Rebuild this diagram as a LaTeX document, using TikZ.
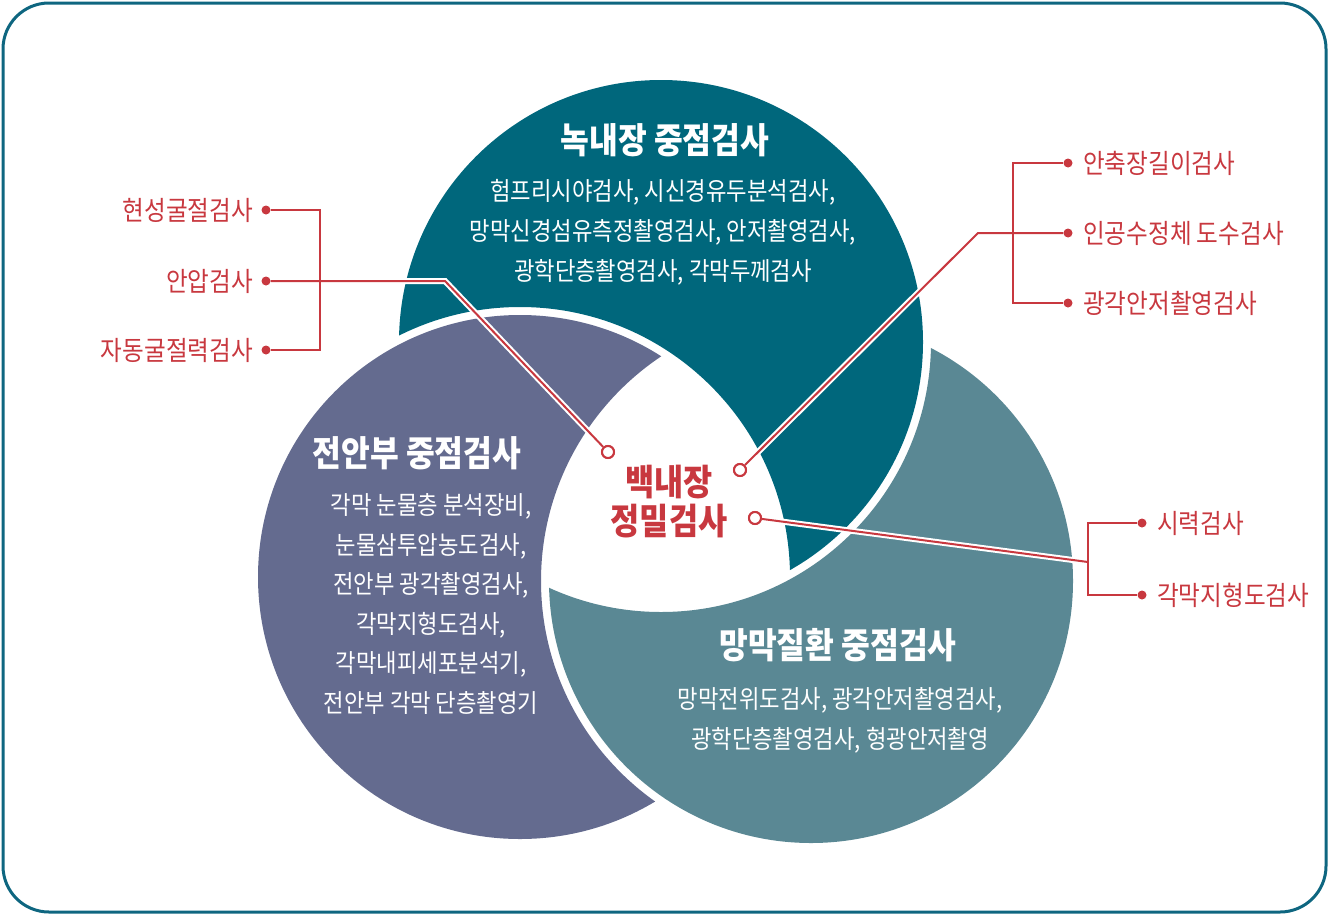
\documentclass[tikz,border=0pt]{standalone}
\usepackage{fontspec}
\setmainfont{Noto Sans CJK KR}[FakeStretch=0.88]
\definecolor{cTop}{RGB}{0,103,124}
\definecolor{cLeft}{RGB}{100,107,143}
\definecolor{cRight}{RGB}{90,136,148}
\definecolor{cRed}{RGB}{200,56,63}
\definecolor{cFrame}{RGB}{14,102,128}
\begin{document}
\begin{tikzpicture}[x=1pt,y=-1pt,
  ttl/.style={text=white, font=\fontsize{35.5}{40}\bfseries\selectfont, inner sep=0pt},
  body/.style={text=white, align=center, inner sep=0pt},
  ctr/.style={text=cRed, align=center, inner sep=0pt, font=\fontsize{36}{39}\bfseries\selectfont},
  lab/.style={text=cRed, inner sep=0pt, font=\fontsize{26.8}{30}\selectfont},
  dot/.style={circle, fill=cRed, inner sep=0pt, minimum size=9pt},
  ring/.style={circle, draw=cRed, line width=2pt, fill=white, inner sep=0pt, minimum size=12pt},
  wire/.style={draw=cRed, line width=2pt},
  cased/.style={preaction={draw=white, line width=6pt}}]
\useasboundingbox (0,0) rectangle (1330,916);
\draw[cFrame, line width=3pt, rounded corners=46pt] (3,3) rectangle (1326,912);

\coordinate (T) at (661,342);
\coordinate (L) at (520,577);
\coordinate (R) at (811,581);

% crescents
\begin{scope}
  \clip (T) circle[radius=262pt];
  \fill[cTop, even odd rule] (T) circle[radius=300pt] (L) circle[radius=270pt];
\end{scope}
\begin{scope}
  \clip (L) circle[radius=262pt];
  \fill[cLeft, even odd rule] (L) circle[radius=300pt] (R) circle[radius=270pt];
\end{scope}
\begin{scope}
  \clip (R) circle[radius=262pt];
  \fill[cRight, even odd rule] (R) circle[radius=300pt] (T) circle[radius=270pt];
\end{scope}

% titles and bodies
\node[ttl] (tTop) at (665,140) {녹내장 중점검사};
\node[body, font=\fontsize{25.3}{40}\selectfont] (bTop) at (663,232)
  {험프리시야검사, 시신경유두분석검사,\\망막신경섬유측정촬영검사, 안저촬영검사,\\광학단층촬영검사, 각막두께검사};

\node[ttl] (tLeft) at (417,453) {전안부 중점검사};
\node[body, font=\fontsize{25.3}{39.6}\selectfont] (bLeft) at (431,604)
  {각막 눈물층 분석장비,\\눈물삼투압농도검사,\\전안부 광각촬영검사,\\각막지형도검사,\\각막내피세포분석기,\\전안부 각막 단층촬영기};

\node[ttl] (tRight) at (838,645) {망막질환 중점검사};
\node[body, font=\fontsize{25.3}{40}\selectfont] (bRight) at (840,720)
  {망막전위도검사, 광각안저촬영검사,\\광학단층촬영검사, 형광안저촬영};

\node[ctr] (center) at (669,502) {백내장\\정밀검사};

% left labels
\node[lab, anchor=east] (lA) at (253,210) {현성굴절검사};
\node[lab, anchor=east] (lB) at (253,281) {안압검사};
\node[lab, anchor=east] (lC) at (253,350) {자동굴절력검사};
\node[dot] (dA) at (266,210) {};
\node[dot] (dB) at (266,281) {};
\node[dot] (dC) at (266,350) {};

% right upper labels
\node[lab, anchor=west] (rA) at (1083,163) {안축장길이검사};
\node[lab, anchor=west] (rB) at (1083,233) {인공수정체 도수검사};
\node[lab, anchor=west] (rC) at (1083,303) {광각안저촬영검사};
\node[dot] (eA) at (1068,163) {};
\node[dot] (eB) at (1068,233) {};
\node[dot] (eC) at (1068,303) {};

% right lower labels
\node[lab, anchor=west] (sA) at (1157,523) {시력검사};
\node[lab, anchor=west] (sB) at (1157,595) {각막지형도검사};
\node[dot] (fA) at (1142,523) {};
\node[dot] (fB) at (1142,595) {};

% markers
\node[ring] (mL) at (608,452) {};
\node[ring] (mR1) at (740,470) {};
\node[ring] (mR2) at (755,518) {};

% bend coordinates
\coordinate (kL) at (445,281);
\coordinate (kR) at (978,233);
\coordinate (jR) at (1088,562);
\coordinate (bA) at (320,210);
\coordinate (bC) at (320,350);
\coordinate (qA) at (1013,163);
\coordinate (qC) at (1013,303);
\coordinate (pA) at (1088,523);
\coordinate (pB) at (1088,595);

% connectors
\draw[wire, cased] (dB) -- (kL) -- (mL);
\draw[wire, cased] (mR1) -- (kR) -- (eB);
\draw[wire, cased] (mR2) -- (jR);
\draw[wire] (dA) -- (bA) -- (bC) -- (dC);
\draw[wire] (eA) -- (qA) -- (qC) -- (eC);
\draw[wire] (fA) -- (pA) -- (pB) -- (fB);

% redraw markers on top
\node[ring] at (mL) {};
\node[ring] at (mR1) {};
\node[ring] at (mR2) {};
\end{tikzpicture}
\end{document}
